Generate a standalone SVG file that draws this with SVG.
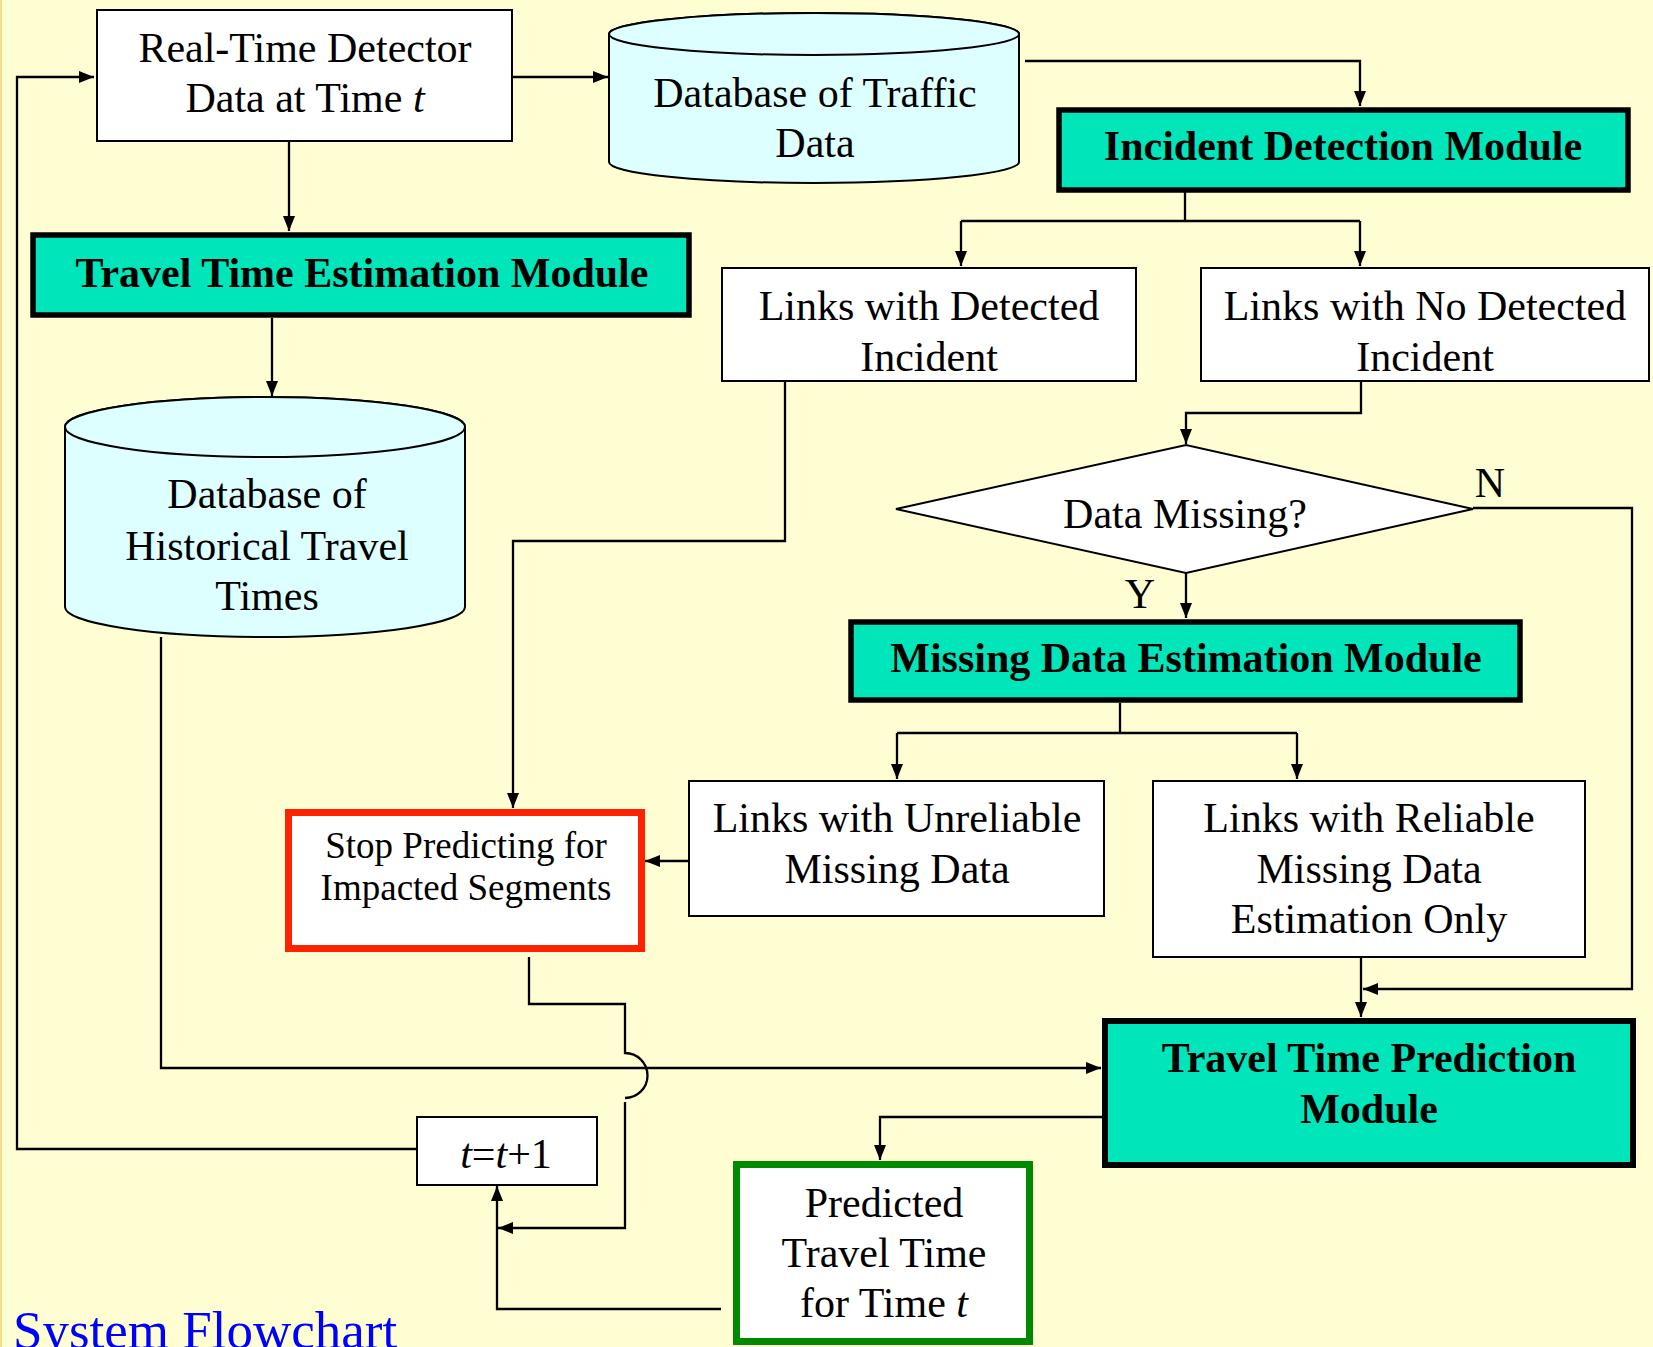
<svg xmlns="http://www.w3.org/2000/svg" width="1653" height="1347" viewBox="0 0 1653 1347">
<defs>
<marker id="ah" viewBox="0 0 15 12" refX="15" refY="6" markerWidth="15" markerHeight="12" orient="auto" markerUnits="userSpaceOnUse"><path d="M0,0 L15,6 L0,12 z" fill="#000"/></marker>
<style>
.t{font-family:"Liberation Serif","Times New Roman",serif;font-size:42px;fill:#000;text-anchor:middle}
.b{font-family:"Liberation Serif","Times New Roman",serif;font-size:42px;font-weight:bold;fill:#000;text-anchor:middle}
.box{fill:#fff;stroke:#000;stroke-width:2}
.mod{fill:#00E5B9;stroke:#000;stroke-width:5.5}
.cyl{fill:#DDFFFF;stroke:#000;stroke-width:2}
.c{fill:none;stroke:#000;stroke-width:2.3}
.ca{fill:none;stroke:#000;stroke-width:2.3;marker-end:url(#ah)}
</style>
</defs>
<rect x="0" y="0" width="1653" height="1347" fill="#FFFED3"/>
<rect x="0" y="0" width="2" height="1347" fill="#F3DC8A"/>

<g id="connectors">
<path class="ca" d="M417,1149 L17,1149 L17,77 L94,77"/>
<path class="ca" d="M512,77 L608,77"/>
<path class="ca" d="M289,141 L289,231"/>
<path class="ca" d="M1025,61 L1360,61 L1360,106"/>
<path class="c" d="M1185,192 L1185,221 M961,221 L1360,221"/>
<path class="ca" d="M961,221 L961,266"/>
<path class="ca" d="M1360,221 L1360,266"/>
<path class="ca" d="M272,318 L272,396"/>
<path class="ca" d="M785,381 L785,541 L513,541 L513,808"/>
<path class="ca" d="M1361,381 L1361,413 L1186,413 L1186,444"/>
<path class="ca" d="M1186,573 L1186,618"/>
<path class="ca" d="M1473,508 L1632,508 L1632,989 L1363,989"/>
<path class="c" d="M1120,703 L1120,733 M897,733 L1297,733"/>
<path class="ca" d="M897,733 L897,779"/>
<path class="ca" d="M1297,733 L1297,779"/>
<path class="ca" d="M689,861 L645,861"/>
<path class="ca" d="M1361,957 L1361,1017"/>
<path class="ca" d="M161,637 L161,1068 L1101,1068"/>
<path class="ca" d="M529,957 L529,1004 L625,1004 L625,1053 A22.5,22.5 0 0 1 625,1098 M625,1102 L625,1228 L498,1228"/>
<path class="ca" d="M1102,1117 L880,1117 L880,1160"/>
<path class="ca" d="M721,1309 L497,1309 L497,1186"/>
</g>

<g id="realtime">
<rect class="box" x="97" y="10" width="415" height="131"/>
<text class="t" x="305" y="62">Real-Time Detector</text>
<text class="t" x="305" y="112">Data at Time <tspan font-style="italic">t</tspan></text>
</g>

<g id="db-traffic">
<path class="cyl" d="M609,34 L609,162 A205,21 0 0 0 1019,162 L1019,34 A205,21 0 0 0 609,34 Z"/>
<ellipse class="cyl" cx="814" cy="34" rx="205" ry="21"/>
<text class="t" x="815" y="107">Database of Traffic</text>
<text class="t" x="815" y="157">Data</text>
</g>

<g id="incident-detection">
<rect class="mod" x="1059" y="110" width="569" height="80"/>
<text class="b" x="1343" y="160">Incident Detection Module</text>
</g>

<g id="tt-estimation">
<rect class="mod" x="33" y="235" width="656" height="80"/>
<text class="b" x="362" y="287">Travel Time Estimation Module</text>
</g>

<g id="links-detected">
<rect class="box" x="722" y="268" width="414" height="113"/>
<text class="t" x="929" y="320">Links with Detected</text>
<text class="t" x="929" y="371">Incident</text>
</g>

<g id="links-nodetected">
<rect class="box" x="1201" y="268" width="448" height="113"/>
<text class="t" x="1425" y="320">Links with No Detected</text>
<text class="t" x="1425" y="371">Incident</text>
</g>

<g id="db-historical">
<path class="cyl" d="M65,427 L65,607 A200,30 0 0 0 465,607 L465,427 A200,30 0 0 0 65,427 Z"/>
<ellipse class="cyl" cx="265" cy="427" rx="200" ry="30"/>
<text class="t" x="267" y="508">Database of</text>
<text class="t" x="267" y="560">Historical Travel</text>
<text class="t" x="267" y="610">Times</text>
</g>

<g id="data-missing">
<polygon points="896,509 1186,445 1473,509 1186,573" fill="#fff" stroke="#000" stroke-width="2"/>
<text class="t" x="1185" y="528">Data Missing?</text>
<text class="t" x="1490" y="497">N</text>
<text class="t" x="1140" y="608">Y</text>
</g>

<g id="missing-estimation">
<rect class="mod" x="851" y="622" width="669" height="78"/>
<text class="b" x="1186" y="672">Missing Data Estimation Module</text>
</g>

<g id="links-unreliable">
<rect class="box" x="689" y="781" width="415" height="135"/>
<text class="t" x="897" y="832">Links with Unreliable</text>
<text class="t" x="897" y="883">Missing Data</text>
</g>

<g id="links-reliable">
<rect class="box" x="1153" y="781" width="432" height="176"/>
<text class="t" x="1369" y="832">Links with Reliable</text>
<text class="t" x="1369" y="883">Missing Data</text>
<text class="t" x="1369" y="933">Estimation Only</text>
</g>

<g id="stop-predicting">
<rect x="288.5" y="812.5" width="353" height="136" fill="#fff" stroke="#FF2200" stroke-width="7"/>
<text class="t" x="466" y="858" style="font-size:37px">Stop Predicting for</text>
<text class="t" x="466" y="900" style="font-size:37px">Impacted Segments</text>
</g>

<g id="tt-prediction">
<rect class="mod" x="1105" y="1021" width="528" height="144" style="stroke-width:6"/>
<text class="b" x="1369" y="1072">Travel Time Prediction</text>
<text class="b" x="1369" y="1123">Module</text>
</g>

<g id="increment">
<rect class="box" x="417" y="1117" width="180" height="68"/>
<text class="t" x="506" y="1168"><tspan font-style="italic">t</tspan>=<tspan font-style="italic">t</tspan>+1</text>
</g>

<g id="predicted">
<rect x="736.5" y="1164.5" width="293" height="177" fill="#fff" stroke="#008A00" stroke-width="7"/>
<text class="t" x="884" y="1217">Predicted</text>
<text class="t" x="884" y="1267">Travel Time</text>
<text class="t" x="884" y="1317">for Time <tspan font-style="italic">t</tspan></text>
</g>

<text x="13" y="1348" style="font-family:'Liberation Serif','Times New Roman',serif;font-size:53px;fill:#0000FF">System Flowchart</text>
</svg>
